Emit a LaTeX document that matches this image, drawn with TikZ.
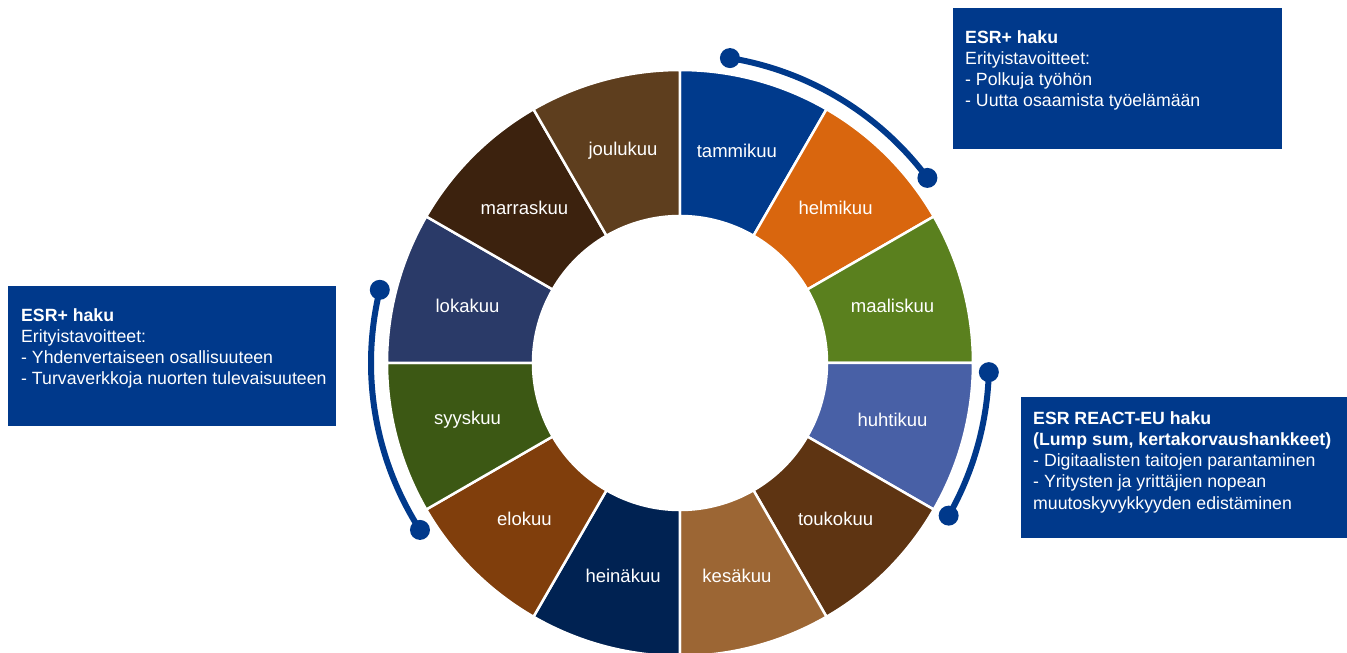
\documentclass[tikz,border=0pt]{standalone}
\usepackage{fontspec}
\setmainfont{Liberation Sans}
\usetikzlibrary{positioning}

\definecolor{esrBlue}{RGB}{0,57,139}
\definecolor{janColor}{RGB}{0,58,140}
\definecolor{febColor}{RGB}{217,102,14}
\definecolor{marColor}{RGB}{90,128,30}
\definecolor{aprColor}{RGB}{72,96,166}
\definecolor{mayColor}{RGB}{94,52,18}
\definecolor{junColor}{RGB}{156,102,52}
\definecolor{julColor}{RGB}{0,34,82}
\definecolor{augColor}{RGB}{128,62,12}
\definecolor{sepColor}{RGB}{60,88,20}
\definecolor{octColor}{RGB}{42,58,104}
\definecolor{novColor}{RGB}{60,34,14}
\definecolor{decColor}{RGB}{94,62,30}

% start angle, colour, node name, month
\newcommand{\monthSegment}[4]{
	\filldraw[fill=#2, draw=white, line width=2.5] (#1:\outerRadius) arc[start angle=#1, delta angle=-30, radius=\outerRadius] -- (#1-30:\innerRadius) arc[start angle=#1-30, delta angle=30, radius=\innerRadius] -- cycle;
	\node[monthLabel] (#3) at (#1-15:\labelRadius) {#4};
}

\begin{document}
\begin{tikzpicture}[x=1pt, y=1pt,
		monthLabel/.style={text=white, inner sep=0, font=\fontsize{18.5}{22}\selectfont},
		infoBox/.style={fill=esrBlue, inner sep=0, anchor=north west},
		infoText/.style={text=white, inner sep=0, align=left, font=\fontsize{17.7}{21.3}\selectfont},
		esrArc/.style={draw=esrBlue, line width=6}]
		\def\outerRadius{293}
		\def\innerRadius{147}
		\def\labelRadius{220}
		\def\arcRadius{309}
		\def\dotRadius{10}

		\useasboundingbox (-680,-290) rectangle (667,363);

		% Year ring
		\monthSegment{90}{janColor}{tammikuu}{tammikuu}
		\monthSegment{60}{febColor}{helmikuu}{helmikuu}
		\monthSegment{30}{marColor}{maaliskuu}{maaliskuu}
		\monthSegment{0}{aprColor}{huhtikuu}{huhtikuu}
		\monthSegment{-30}{mayColor}{toukokuu}{toukokuu}
		\monthSegment{-60}{junColor}{kesakuu}{kesäkuu}
		\monthSegment{-90}{julColor}{heinakuu}{heinäkuu}
		\monthSegment{-120}{augColor}{elokuu}{elokuu}
		\monthSegment{-150}{sepColor}{syyskuu}{syyskuu}
		\monthSegment{180}{octColor}{lokakuu}{lokakuu}
		\monthSegment{150}{novColor}{marraskuu}{marraskuu}
		\monthSegment{120}{decColor}{joulukuu}{joulukuu}

		% Call periods
		\draw[esrArc] (80.7:\arcRadius) coordinate (topStart) arc[start angle=80.7, end angle=36.8, radius=\arcRadius] coordinate (topEnd);
		\draw[esrArc] (-1.7:\arcRadius) coordinate (rightStart) arc[start angle=-1.7, end angle=-29.6, radius=\arcRadius] coordinate (rightEnd);
		\draw[esrArc] (166.3:\arcRadius) coordinate (leftStart) arc[start angle=166.3, end angle=212.7, radius=\arcRadius] coordinate (leftEnd);
		\fill[esrBlue] (topStart) circle (\dotRadius) (topEnd) circle (\dotRadius);
		\fill[esrBlue] (rightStart) circle (\dotRadius) (rightEnd) circle (\dotRadius);
		\fill[esrBlue] (leftStart) circle (\dotRadius) (leftEnd) circle (\dotRadius);

		% Info boxes
		\node[infoBox, minimum width=329pt, minimum height=141pt] (topBox) at (273,355) {};
		\node[infoText, below right=22pt and 12pt of topBox.north west] (topText) {\textbf{ESR+ haku}\\Erityistavoitteet:\\- Polkuja työhön\\- Uutta osaamista työelämään};

		\node[infoBox, minimum width=328pt, minimum height=140pt] (leftBox) at (-672,77) {};
		\node[infoText, below right=22pt and 13pt of leftBox.north west] (leftText) {\textbf{ESR+ haku}\\Erityistavoitteet:\\- Yhdenvertaiseen osallisuuteen\\- Turvaverkkoja nuorten tulevaisuuteen};

		\node[infoBox, minimum width=326pt, minimum height=141pt] (rightBox) at (341,-34) {};
		\node[infoText, below right=14pt and 12pt of rightBox.north west] (rightText) {\textbf{ESR REACT-EU haku}\\\textbf{(Lump sum, kertakorvaushankkeet)}\\- Digitaalisten taitojen parantaminen\\- Yritysten ja yrittäjien nopean\\muutoskyvykkyyden edistäminen};
	\end{tikzpicture}
\end{document}
